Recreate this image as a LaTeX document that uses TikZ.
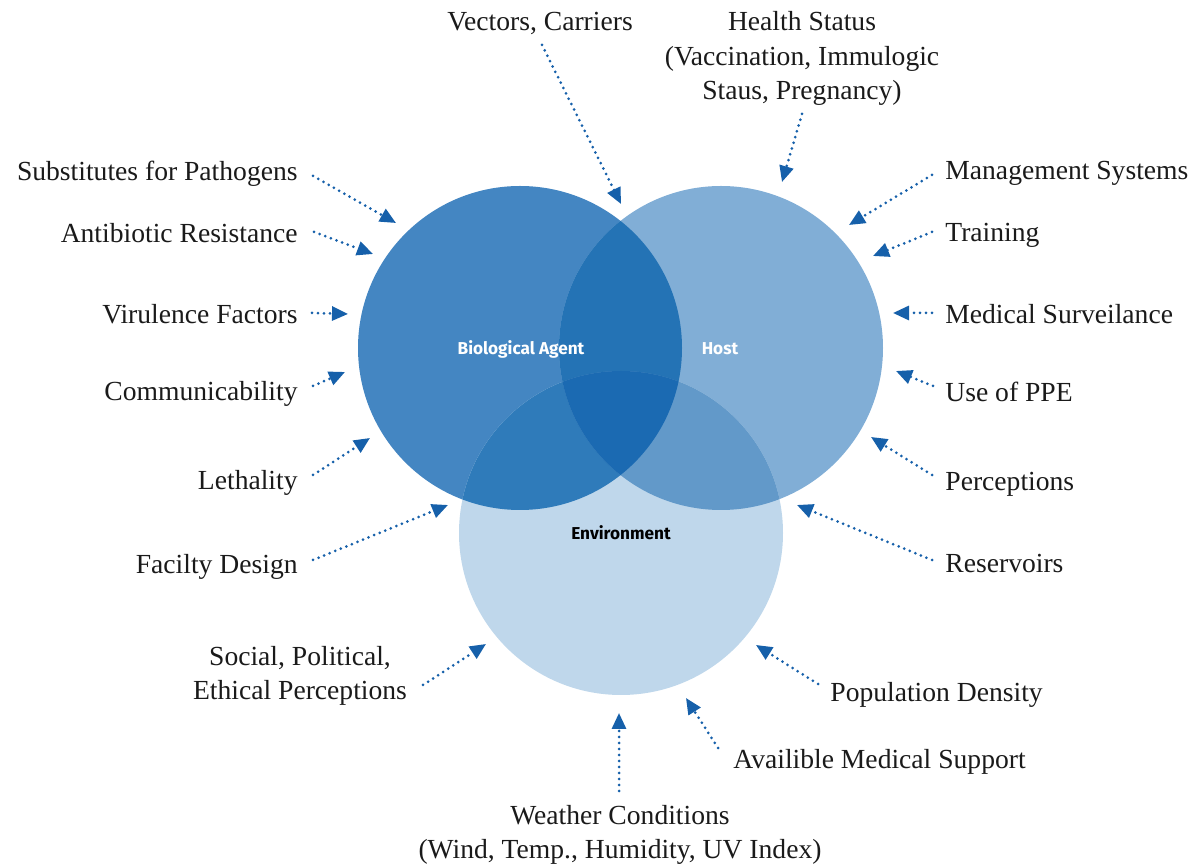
\documentclass[tikz,border=0pt]{standalone}
\usepackage{fontspec}
\setmainfont{Liberation Serif}
\newfontfamily\vennfont{Fira Sans}
\usetikzlibrary{arrows.meta}
\definecolor{baC}{HTML}{4486C2}
\definecolor{hostC}{HTML}{81AED6}
\definecolor{envC}{HTML}{BFD7EB}
\definecolor{bahostC}{HTML}{2473B5}
\definecolor{baenvC}{HTML}{2F7BBA}
\definecolor{hostenvC}{HTML}{6299C9}
\definecolor{allC}{HTML}{1B6AB2}
\definecolor{feedC}{HTML}{1660AA}
\definecolor{txtC}{HTML}{1A1A1A}
\tikzset{
	lbl/.style={inner sep=0pt,text=txtC,font=\fontsize{13.8}{17.4}\selectfont},
	lblL/.style={lbl,anchor=base east},
	lblR/.style={lbl,anchor=base west},
	lblC/.style={lbl,anchor=base,align=center},
	venn/.style={inner sep=0pt,anchor=base,font=\vennfont\bfseries\fontsize{8.6}{10}\selectfont},
	feed/.style={draw=feedC,line width=1.5pt,line cap=round,dash pattern=on 0pt off 3pt,
		-{Triangle[length=8pt,width=7pt,fill=feedC]}}
}
\begin{document}
\begin{tikzpicture}[x=0.5pt,y=-0.5pt]
			\useasboundingbox (0,0) rectangle (1196,865);
			% circles
			\coordinate (ba) at (520,348);
			\coordinate (host) at (721,348);
			\coordinate (env) at (621,533);
			\fill[baC] (ba) circle[radius=81pt];
			\fill[hostC] (host) circle[radius=81pt];
			\fill[envC] (env) circle[radius=81pt];
			\begin{scope}
				\clip (ba) circle[radius=81pt];
				\fill[bahostC] (host) circle[radius=81pt];
				\fill[baenvC] (env) circle[radius=81pt];
				\clip (host) circle[radius=81pt];
				\fill[allC] (env) circle[radius=81pt];
			\end{scope}
			\begin{scope}
				\clip (host) circle[radius=81pt];
				\clip (env) circle[radius=81pt];
				\fill[hostenvC] (ba) ++(-400,-400) rectangle ++(1200,1200);
				\clip (ba) circle[radius=81pt];
				\fill[allC] (env) circle[radius=81pt];
			\end{scope}
			\node[venn,text=white] (baL) at (521,355) {Biological Agent};
			\node[venn,text=white] (hostL) at (720,355) {Host};
			\node[venn,text=black] (envL) at (621,540) {Environment};
			% labels
			\node[lblL] (subst) at (298,181) {Substitutes for Pathogens};
			\node[lblL] (antib) at (298,243) {Antibiotic Resistance};
			\node[lblL] (viru) at (298,324) {Virulence Factors};
			\node[lblL] (comm) at (298,401) {Communicability};
			\node[lblL] (leth) at (298,490) {Lethality};
			\node[lblL] (facil) at (298,574) {Facilty Design};
			\node[lblC] (social) at (300,700) {Social, Political,\\Ethical Perceptions};
			\node[lblC] (vect) at (540,31) {Vectors, Carriers};
			\node[lblC] (health) at (802,100) {Health Status\\(Vaccination, Immulogic\\Staus, Pregnancy)};
			\node[lblR] (mgmt) at (945,180) {Management Systems};
			\node[lblR] (train) at (945,242) {Training};
			\node[lblR] (medsurv) at (945,324) {Medical Surveilance};
			\node[lblR] (ppe) at (945,402) {Use of PPE};
			\node[lblR] (percep) at (945,491) {Perceptions};
			\node[lblR] (reserv) at (945,573) {Reservoirs};
			\node[lblR] (popden) at (830,702) {Population Density};
			\node[lblR] (medsup) at (733,769) {Availible Medical Support};
			\node[lblC] (weather) at (620,859) {Weather Conditions\\(Wind, Temp., Humidity, UV Index)};
			% arrow ends
			\coordinate (subst-a) at (313,176);   \coordinate (subst-b) at (396,223);
			\coordinate (antib-a) at (314,232);   \coordinate (antib-b) at (373,254);
			\coordinate (viru-a) at (312,313);    \coordinate (viru-b) at (348,314);
			\coordinate (comm-a) at (313,386);    \coordinate (comm-b) at (345,372);
			\coordinate (leth-a) at (313,475);    \coordinate (leth-b) at (370,438);
			\coordinate (facil-a) at (313,560);   \coordinate (facil-b) at (448,505);
			\coordinate (social-a) at (423,685);  \coordinate (social-b) at (486,644);
			\coordinate (vect-a) at (542,45);     \coordinate (vect-b) at (621,204);
			\coordinate (health-a) at (802,114);  \coordinate (health-b) at (782,182);
			\coordinate (mgmt-a) at (932,175);    \coordinate (mgmt-b) at (849,225);
			\coordinate (train-a) at (932,232);   \coordinate (train-b) at (873,256);
			\coordinate (medsurv-a) at (932,313); \coordinate (medsurv-b) at (893,313);
			\coordinate (ppe-a) at (933,386);     \coordinate (ppe-b) at (896,371);
			\coordinate (percep-a) at (932,475);  \coordinate (percep-b) at (871,437);
			\coordinate (reserv-a) at (932,560);  \coordinate (reserv-b) at (797,505);
			\coordinate (popden-a) at (818,684);  \coordinate (popden-b) at (756,645);
			\coordinate (medsup-a) at (718,748);  \coordinate (medsup-b) at (686,698);
			\coordinate (weather-a) at (619,791); \coordinate (weather-b) at (619,713);
			\foreach \n in {subst,antib,viru,comm,leth,facil,social,vect,health,mgmt,train,medsurv,ppe,percep,reserv,popden,medsup,weather}
				\draw[feed] (\n-a) -- (\n-b);
		\end{tikzpicture}
\end{document}
